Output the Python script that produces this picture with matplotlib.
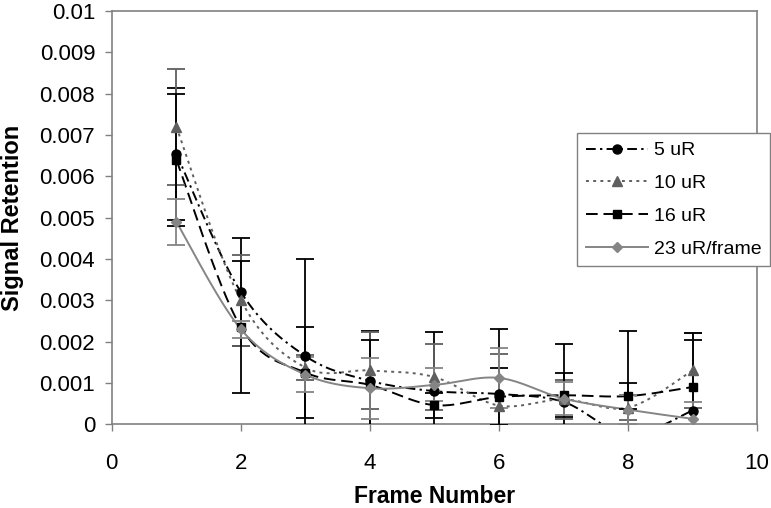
import numpy as np
import matplotlib
matplotlib.use("Agg")
import matplotlib.pyplot as plt
from matplotlib.lines import Line2D

plt.rcParams['font.family'] = ['Liberation Sans', 'DejaVu Sans']

frames = [1, 2, 3, 4, 5, 6, 7, 8, 9]
labels = ["5 uR", "10 uR", "16 uR", "23 uR/frame"]

r5 = [0.00655, 0.0032, 0.00165, 0.00105, 0.0008, 0.00073, 0.00054, -0.00025, 0.00033]
r10 = [0.0072, 0.0030, 0.00137, 0.0013, 0.00114, 0.00045, 0.0006, 0.0004, 0.0013]
r16 = [0.0064, 0.00235, 0.00125, 0.00095, 0.00046, 0.00066, 0.0007, 0.00068, 0.0009]
r23 = [0.0049, 0.0023, 0.0012, 0.00087, 0.00095, 0.00112, 0.00062, 0.00035, 0.00013]

e5 = [0.0016, 0.0013, 0.00235, 0.0012, 0.00142, 0.00157, 0.0014, 0.0025, 0.0017]
e10 = [0.0014, 0.0011, 0.0003, 0.00094, 0.0008, 0.00125, 0.00047, 0.0003, 0.0009]
e16 = [0.0016, 0.0016, 0.00111, 0.0011, 0.0003, 0.00069, 0.00053, 0.00032, 0.0013]
e23 = [0.00056, 0.00021, 0.00042, 0.00074, 0.0004, 0.00072, 0.0004, 0.00035, 0.0004]

values = [r5, r10, r16, r23]
errors = [e5, e10, e16, e23]
colors = ["#000000", "#5f5f5f", "#000000", "#858585"]
markers = ["o", "^", "s", "D"]
msizes = [6.5, 7, 6, 5.5]
dashes = [(0, (5, 2.2, 1.2, 2.2)), (0, (1.5, 2.2)), (0, (6, 3)), "-"]


def smooth(x, y, n=30):
    # Excel-style smoothed line (Bezier through points)
    x = np.asarray(x, float)
    y = np.asarray(y, float)
    P = np.column_stack([x, y])
    out = [P[0]]
    t = np.linspace(0, 1, n)[1:, None]
    for i in range(len(P) - 1):
        p0 = P[i - 1] if i > 0 else P[i]
        p1 = P[i]
        p2 = P[i + 1]
        p3 = P[i + 2] if i + 2 < len(P) else P[i + 1]
        c1 = p1 + (p2 - p0) / 6.0
        c2 = p2 - (p3 - p1) / 6.0
        seg = ((1 - t) ** 3) * p1 + 3 * ((1 - t) ** 2) * t * c1 + 3 * (1 - t) * t ** 2 * c2 + t ** 3 * p2
        out.extend(seg)
    out = np.array(out)
    return out[:, 0], out[:, 1]


fig = plt.figure(figsize=(7.71, 5.08), dpi=100)
ax = fig.add_axes([0.145, 0.165, 0.837, 0.813])

handles = []
for vals, errs, c, m, ms, ls, lab in zip(values, errors, colors, markers, msizes, dashes, labels):
    xs, ys = smooth(frames, vals)
    ax.plot(xs, ys, color=c, linestyle=ls, linewidth=1.4, zorder=2)
    ax.errorbar(frames, vals, yerr=errs, fmt="none", ecolor=c, elinewidth=1.3,
                capsize=6.3, capthick=1.3, zorder=3)
    ax.plot(frames, vals, linestyle="none", marker=m, markersize=ms, color=c,
            markeredgecolor=c, zorder=4)
    handles.append(Line2D([], [], color=c, linestyle=ls, linewidth=1.4, marker=m,
                          markersize=ms, markeredgecolor=c, label=lab))

ax.set_xlim(0, 10)
ax.set_ylim(0, 0.01)
ax.set_xticks([0, 2, 4, 6, 8, 10])
ax.set_yticks(np.arange(0, 0.0101, 0.001))
ax.set_yticklabels(["0", "0.001", "0.002", "0.003", "0.004", "0.005",
                    "0.006", "0.007", "0.008", "0.009", "0.01"])
for s in ax.spines.values():
    s.set_color("#808080")
    s.set_linewidth(1.2)
ax.tick_params(axis="both", colors="#808080", labelcolor="black", labelsize=16,
               length=5, width=1)
ax.tick_params(axis="x", pad=16)
ax.tick_params(axis="y", pad=7)

ax.set_xlabel("Frame Number", fontsize=16.5, fontweight="bold", labelpad=8)
ax.set_ylabel("Signal Retention", fontsize=17, fontweight="bold", labelpad=11)

leg = fig.legend(handles=handles, loc="upper left", bbox_to_anchor=(577 / 771, 1 - 133 / 508),
                 fontsize=14, handlelength=3.2, frameon=True, fancybox=False,
                 edgecolor="#808080", framealpha=1, borderpad=0.45, labelspacing=0.78,
                 handletextpad=0.3, borderaxespad=0)
leg.get_frame().set_linewidth(1.0)

fig.savefig("out.png", dpi=100)
